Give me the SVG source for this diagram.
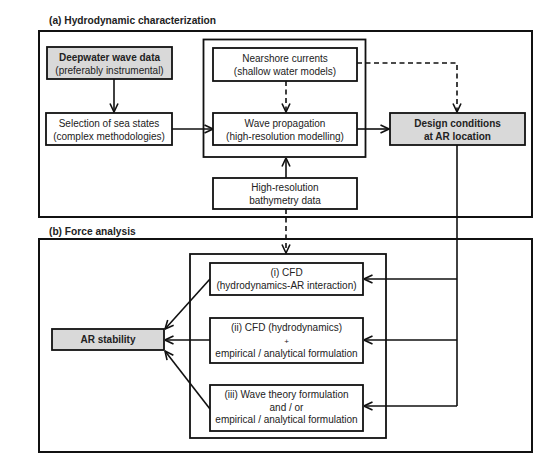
<svg xmlns="http://www.w3.org/2000/svg" width="550" height="462" viewBox="0 0 550 462">
<defs>
<marker id="arr" viewBox="0 0 10 10" refX="9.5" refY="5" markerWidth="10" markerHeight="10" markerUnits="userSpaceOnUse" orient="auto">
<path d="M1,1 L9.5,5 L1,9" fill="none" stroke="#111" stroke-width="1.6"/>
</marker>
</defs>
<style>
text{font-family:"Liberation Sans",Arial,sans-serif;font-size:10px;fill:#222;text-anchor:middle}
.b{font-weight:bold}
.t{font-weight:bold;text-anchor:start;font-size:10.2px}
.frame{fill:none;stroke:#111;stroke-width:2}
.box{fill:#fff;stroke:#111;stroke-width:1.8}
.grey{fill:#d9d9d9;stroke:#111;stroke-width:1.8}
.ln{fill:none;stroke:#111;stroke-width:1.6}
.da{stroke-dasharray:5,3.5}
</style>
<rect width="550" height="462" fill="#fff"/>
<text class="t" x="49" y="24">(a) Hydrodynamic characterization</text>
<text class="t" x="49" y="235">(b) Force analysis</text>
<g id="frameA"><rect class="frame" x="39" y="31" width="493" height="186"/></g>
<g id="frameB"><rect class="frame" x="39" y="239" width="493" height="213"/></g>
<g id="groupA"><rect class="box" x="203.5" y="39.5" width="162" height="117.5"/></g>
<g id="groupB"><rect class="box" x="190" y="254" width="196" height="184"/></g>
<g id="connectors">
<path class="ln" d="M114,79 V112" marker-end="url(#arr)"/>
<path class="ln" d="M172,129 H213" marker-end="url(#arr)"/>
<path class="ln da" d="M286,81 V112" marker-end="url(#arr)"/>
<path class="ln da" d="M357,63 H457 V112" marker-end="url(#arr)"/>
<path class="ln" d="M357,129 H389" marker-end="url(#arr)"/>
<path class="ln" d="M286,178 V158" marker-end="url(#arr)"/>
<path class="ln da" d="M286,209 V253" marker-end="url(#arr)"/>
<path class="ln" d="M457,145 V406"/>
<path class="ln" d="M457,279 H364" marker-end="url(#arr)"/>
<path class="ln" d="M457,340 H364" marker-end="url(#arr)"/>
<path class="ln" d="M457,406 H364" marker-end="url(#arr)"/>
<path class="ln" d="M210,279 L165,329" marker-end="url(#arr)"/>
<path class="ln" d="M210,340 H165" marker-end="url(#arr)"/>
<path class="ln" d="M210,409 L165,351" marker-end="url(#arr)"/>
</g>
<g id="deepwater"><rect class="grey" x="47" y="47" width="125" height="32"/><text class="b" x="109.5" y="61">Deepwater wave data</text><text x="109.5" y="73.5">(preferably instrumental)</text></g>
<g id="selection"><rect class="box" x="46" y="113" width="126" height="32"/><text x="109" y="127">Selection of sea states</text><text x="109" y="139.5">(complex methodologies)</text></g>
<g id="nearshore"><rect class="box" x="213" y="48" width="144" height="33"/><text x="285" y="62">Nearshore currents</text><text x="285" y="74.5">(shallow water models)</text></g>
<g id="wave"><rect class="box" x="213" y="113" width="144" height="32"/><text x="285" y="127">Wave propagation</text><text x="285" y="139.5">(high-resolution modelling)</text></g>
<g id="design"><rect class="grey" x="390" y="113" width="135" height="32"/><text class="b" x="457.5" y="127">Design conditions</text><text class="b" x="457.5" y="139.5">at AR location</text></g>
<g id="bathy"><rect class="box" x="213" y="178" width="144" height="31"/><text x="285" y="191">High-resolution</text><text x="285" y="203.5">bathymetry data</text></g>
<g id="cfd1"><rect class="box" x="210" y="263" width="153" height="32"/><text x="286.5" y="276">(i) CFD</text><text x="286.5" y="288.5">(hydrodynamics-AR interaction)</text></g>
<g id="cfd2"><rect class="box" x="210" y="318" width="153" height="45"/><text x="286.5" y="331">(ii) CFD (hydrodynamics)</text><text x="286.5" y="344" style="font-size:8px">+</text><text x="286.5" y="356.5">empirical / analytical formulation</text></g>
<g id="cfd3"><rect class="box" x="210" y="385" width="153" height="46"/><text x="286.5" y="398">(iii) Wave theory formulation</text><text x="286.5" y="410.5">and / or</text><text x="286.5" y="423">empirical / analytical formulation</text></g>
<g id="stability"><rect class="grey" x="52" y="329" width="112" height="21"/><text class="b" x="108" y="343">AR stability</text></g>
</svg>
